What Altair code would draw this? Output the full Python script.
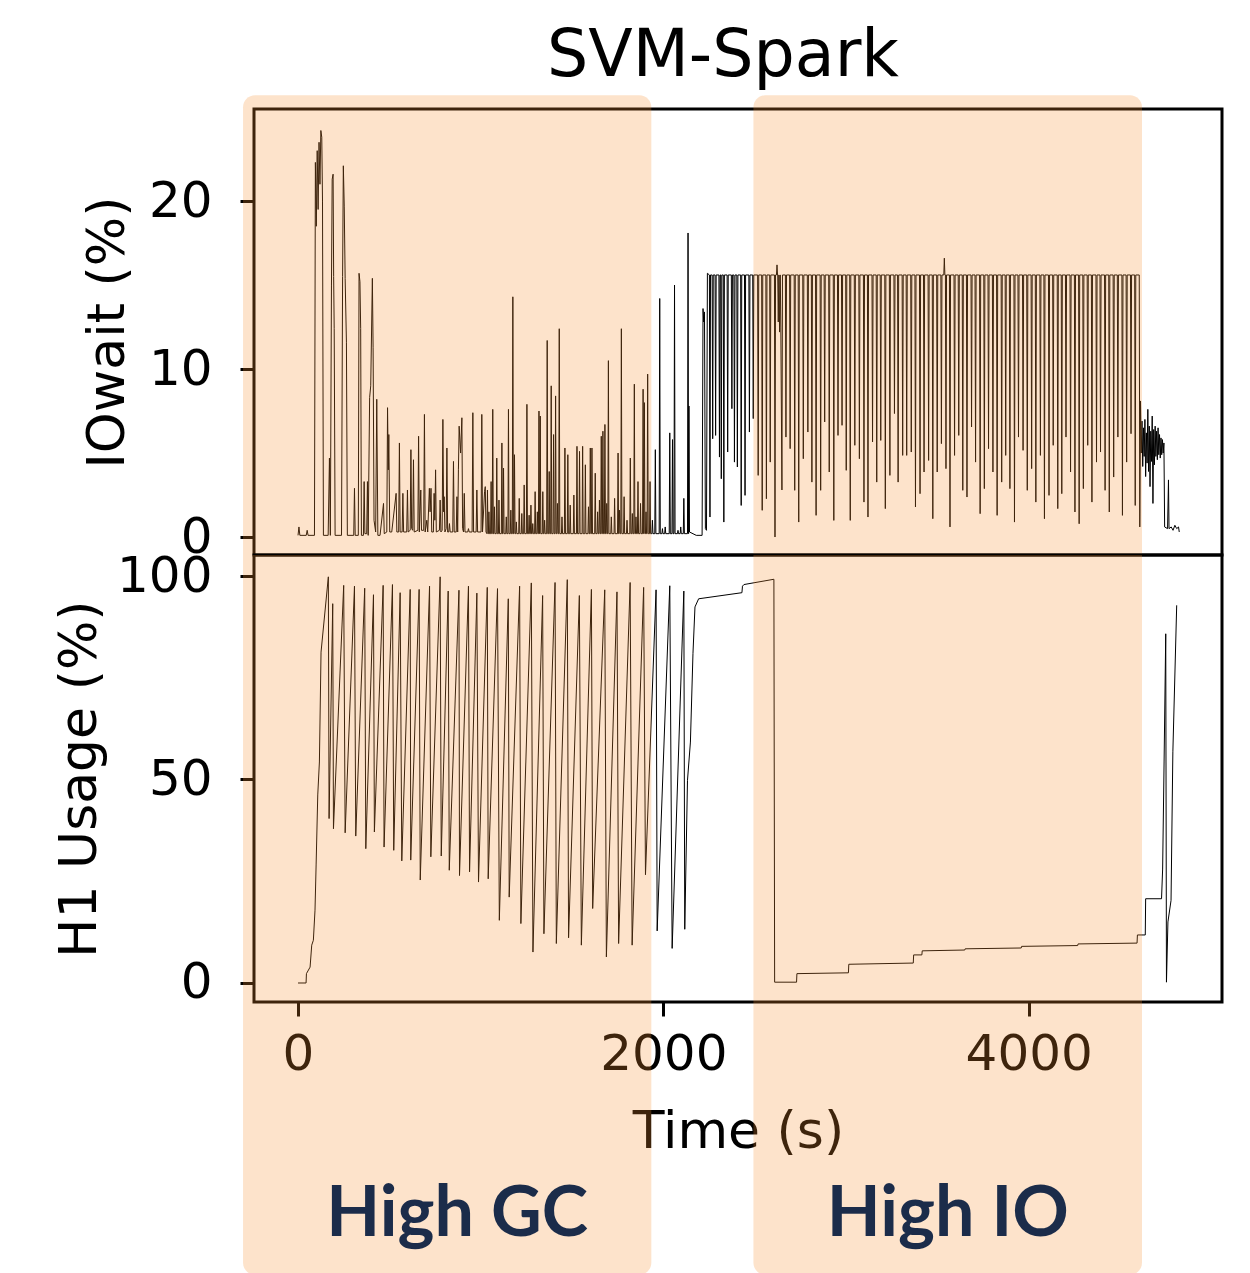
import altair as alt
import pandas as pd

# ---------------- IOwait (%) : top panel ----------------
IOW_EARLY_T = [0, 5, 10, 45, 50, 55, 90, 95, 100, 105, 110, 115, 120, 125, 130, 134, 139,
               165, 172, 177, 183, 187, 192, 195, 198, 203, 238, 244, 248, 253, 258, 265, 270,
               305, 309, 313, 330, 334, 339, 343, 347, 358, 362, 366, 376, 380, 384,
               392, 398, 407, 411, 416, 425, 431, 437, 449, 468, 472, 486, 490, 494, 497, 502,
               513, 537, 541, 551, 555, 559, 570, 574, 578, 595, 599, 603, 614, 618, 622, 628, 632, 636,
               656, 660, 664, 672, 676, 688, 692, 696, 705, 710, 719, 723, 728, 732, 741, 745, 749, 753, 757,
               774, 778, 782, 789, 793, 797, 800, 804, 811, 815, 819, 825, 829, 833, 847, 851, 855, 866, 870, 874,
               878, 882, 890, 897, 901, 906, 910, 914, 929, 933, 937, 953, 957, 961, 975, 979, 983,
               1002, 1006, 1010, 1021, 1025, 1029]
IOW_EARLY_V = [0.1, 0.6, 0.1, 0.1, 0.4, 0.1, 0.1, 22.3, 18.5, 23.0, 19.5, 23.5, 21.0, 24.2, 23.8, 20.0, 0.1,
               0.1, 4.7, 0.1, 15.0, 21.3, 21.6, 15.5, 12.4, 0.1, 0.1, 15.5, 22.1, 19.7, 15.4, 11.6, 0.1,
               0.1, 2.9, 0.1, 0.1, 15.7, 15.2, 12.4, 0.1, 0.1, 3.3, 0.2, 0.2, 3.3, 0.1,
               8.3, 9.0, 15.4, 11.3, 1.0, 0.3, 8.2, 0.1, 0.1, 2.0, 0.2, 0.3, 7.7, 4.0, 6.1, 0.3,
               0.3, 2.6, 0.3, 0.3, 5.6, 0.3, 0.3, 2.6, 0.3, 0.3, 2.8, 0.3, 0.4, 5.2, 0.5, 0.4, 4.6, 0.3,
               0.4, 6.0, 0.3, 2.8, 0.4, 0.4, 7.3, 0.3, 1.0, 0.3, 2.9, 1.5, 2.9, 0.3, 0.3, 2.6, 1.0, 4.0, 0.3,
               0.4, 2.2, 0.3, 0.4, 7.0, 1.5, 2.4, 0.3, 0.5, 5.3, 0.3, 0.3, 0.8, 0.3, 0.3, 4.5, 0.3, 0.3, 2.4, 0.3,
               4.0, 6.6, 5.0, 7.1, 0.5, 0.3, 2.6, 0.3, 0.3, 0.5, 0.3, 0.3, 7.4, 0.3, 0.3, 2.8, 0.3,
               0.3, 7.3, 0.3, 2.7, 3.0, 0.3]

IOW_SPIKE_T = [1037, 1045, 1057, 1066, 1075, 1088, 1100, 1116, 1125, 1140,
               1152, 1165, 1176, 1185, 1195, 1211, 1225, 1238, 1253, 1265,
               1275, 1285, 1298, 1310, 1319, 1326, 1340, 1350, 1364, 1375,
               1386, 1399, 1410, 1420, 1430, 1445, 1461, 1477, 1490, 1510,
               1527, 1541, 1558, 1573, 1590, 1600, 1609, 1627, 1640, 1650,
               1660, 1669, 1680, 1690, 1699, 1715, 1733, 1752, 1760, 1770,
               1785, 1801, 1819, 1830, 1841, 1850, 1861, 1875, 1889, 1896,
               1905, 1914, 1927, 1940, 1956, 1980, 1995, 2010, 2035, 2050,
               2061, 2080, 2095, 2112, 2135]
IOW_SPIKE_V = [2.8, 1.5, 3.3, 7.6, 1.8, 4.7, 2.2, 5.6, 4.1, 1.2,
               7.6, 1.6, 14.3, 4.9, 0.9, 2.3, 1.4, 3.1, 7.9, 1.3,
               1.9, 0.8, 2.7, 1.5, 7.5, 7.2, 2.7, 1.0, 11.7, 3.9,
               9.0, 6.1, 8.4, 2.0, 12.4, 1.2, 5.3, 4.9, 1.9, 2.5,
               5.4, 5.1, 5.4, 4.3, 1.8, 5.3, 5.3, 3.8, 1.5, 2.2,
               6.0, 6.3, 6.7, 2.0, 10.5, 1.2, 2.3, 5.0, 1.6, 12.4,
               2.4, 1.0, 4.7, 1.4, 9.1, 1.2, 3.3, 2.0, 8.8, 8.0,
               1.5, 9.7, 3.3, 1.0, 5.2, 14.2, 0.5, 0.6, 6.2, 5.8,
               15.0, 0.4, 0.6, 2.3, 18.1]
IOW_BASE = 0.2

IOW_MID_T = [2140, 2143, 2180, 2212, 2217, 2221, 2225, 2230, 2236, 2241]
IOW_MID_V = [7.8, 0.3, 0.1, 0.1, 13.6, 12.8, 13.4, 0.5, 0.4, 15.7]

IOW_PLATEAU = 15.6
IOW_DIP_T = [2255, 2270, 2286, 2307, 2317, 2331, 2352, 2375, 2389, 2405,
             2426, 2447, 2471, 2492, 2519, 2541, 2564, 2585, 2611, 2622,
             2629, 2636, 2643, 2649, 2671, 2694, 2719, 2741, 2766, 2791,
             2813, 2836, 2861, 2883, 2908, 2933, 2956, 2978, 3001, 3023,
             3048, 3073, 3098, 3120, 3145, 3168, 3190, 3215, 3240, 3265,
             3285, 3310, 3332, 3357, 3380, 3405, 3427, 3452, 3475, 3499,
             3522, 3538, 3547, 3569, 3594, 3617, 3639, 3662, 3687, 3709,
             3734, 3757, 3780, 3804, 3827, 3852, 3874, 3897, 3922, 3944,
             3969, 3992, 4016, 4039, 4064, 4086, 4111, 4134, 4159, 4181,
             4204, 4229, 4253, 4276, 4299, 4323, 4346, 4371, 4393, 4418,
             4441, 4465, 4488, 4513, 4536, 4560, 4583, 4608]
IOW_DIP_V = [1.19, 5.85, 6.05, 4.76, 3.47, 0.89, 5.06, 7.64, 4.46, 4.17,
             1.88, 2.48, 6.25, 7.05, 3.67, 1.59, 2.28, 4.46, 0.0, 16.2,
             12.8, 12.2, 12.5, 2.8, 5.95, 5.26, 2.78, 0.89, 4.66, 6.25,
             3.27, 1.29, 2.78, 6.85, 3.87, 0.99, 6.05, 6.65, 3.97, 0.99,
             5.46, 4.66, 2.08, 1.19, 5.66, 3.27, 5.75, 1.69, 3.67, 7.35,
             3.27, 4.86, 4.86, 5.06, 1.79, 2.58, 3.87, 4.56, 1.09, 3.87,
             5.56, 16.6, 4.07, 0.6, 4.86, 6.05, 2.78, 2.38, 6.55, 4.46,
             1.39, 2.88, 5.26, 3.87, 1.29, 3.27, 4.86, 2.88, 0.89, 5.95,
             5.16, 2.78, 4.07, 2.08, 4.86, 1.09, 2.48, 5.46, 1.69, 2.58,
             5.95, 3.87, 1.49, 0.79, 2.88, 5.46, 2.08, 4.46, 5.06, 2.78,
             1.49, 3.57, 5.95, 1.29, 4.46, 6.15, 1.88, 0.6]

IOW_TAIL_T = [4612, 4616, 4620, 4624, 4628, 4632, 4636, 4640, 4644, 4648,
              4652, 4656, 4660, 4664, 4668, 4672, 4676, 4680, 4684, 4688,
              4692, 4696, 4700, 4704, 4708, 4712, 4716, 4720, 4724, 4728,
              4732, 4736, 4740, 4744, 4760, 4765, 4768, 4780, 4790, 4800,
              4810, 4820, 4824]
IOW_TAIL_V = [8.1, 5.0, 6.9, 4.2, 6.5, 4.8, 7.0, 3.6, 6.2, 4.4,
              7.6, 3.9, 6.6, 3.0, 6.3, 4.5, 7.2, 2.0, 6.4, 4.3,
              6.6, 4.8, 6.3, 4.6, 6.5, 4.9, 6.1, 4.7, 5.9, 4.9,
              5.8, 5.0, 5.6, 0.6, 0.5, 3.4, 0.5, 0.6, 0.4, 0.7,
              0.5, 0.6, 0.3]

# ---------------- H1 Usage (%) : bottom panel ----------------
H1_RAMP_T = [0, 44, 46, 66, 75, 84, 93, 99, 108, 117, 126]
H1_RAMP_V = [0, 0, 2.3, 3.9, 9.3, 10.5, 17.9, 29.0, 46.2, 54.3, 81.3]
H1_PEAK_T = [166, 190, 250, 309, 365, 413, 466, 517, 559, 614, 663, 720, 778, 822, 881, 933, 979,
             1036, 1092, 1151, 1213, 1277, 1339, 1407, 1474, 1540, 1606, 1679, 1746, 1818, 1892,
             1960, 2035, 2112]
H1_PEAK_V = [99.8, 93.2, 97.7, 97.5, 97.0, 95.4, 97.7, 97.9, 95.9, 96.7, 96.7, 97.5, 99.8, 96.3,
             96.5, 97.5, 95.8, 97.2, 96.9, 94.4, 97.5, 98.3, 95.2, 98.4, 99.1, 95.2, 96.7, 96.6,
             96.1, 98.4, 97.2, 96.6, 97.6, 96.3]
H1_TROUGH_T = [170, 194, 258, 316, 371, 418, 471, 524, 568, 617, 669, 727, 784, 828, 884, 939, 988,
               1041, 1102, 1156, 1220, 1286, 1346, 1414, 1481, 1551, 1613, 1688, 1755, 1829, 1902,
               1966, 2048, 2117]
H1_TROUGH_V = [40.4, 37.9, 36.9, 36.1, 33.0, 37.1, 33.4, 32.6, 30.0, 30.2, 25.3, 31.0, 31.2, 27.7,
               26.4, 27.3, 24.8, 25.6, 15.4, 21.1, 14.6, 7.6, 12.1, 9.7, 11.1, 9.3, 18.3, 6.4,
               9.7, 9.3, 26.6, 12.8, 8.5, 13.2]
H1_LATE_T = [2132, 2148, 2162, 2173, 2193, 2430, 2433, 2441, 2605, 2609, 2729, 2731, 3013, 3015,
             3368, 3370, 3415, 3417, 3650, 3652, 3959, 3961, 4268, 4270, 4593, 4595, 4638, 4640,
             4727, 4733, 4741, 4750, 4754, 4762, 4779, 4789, 4810]
H1_LATE_V = [49.8, 59.2, 81.0, 92.4, 94.4, 95.9, 97.5, 97.9, 99.2, 0.2, 0.2, 2.3, 2.5, 4.6,
             4.9, 6.9, 6.9, 7.9, 8.1, 8.4, 8.6, 9.0, 9.2, 9.6, 9.8, 11.8, 11.8, 20.7,
             20.7, 28.0, 54.3, 85.8, 0.2, 15.0, 20.3, 56.8, 92.8]

# ---------------- highlighted phases ----------------
PHASE_LABELS = ["High GC", "High IO"]
PHASE_START = [-301, 2493]
PHASE_END = [1934, 4620]
PHASE_LABEL_T = [871, 3557]
PHASE_TOP_IOW = 26.3     # top of shaded band (IOwait units)
PHASE_BOTTOM_H1 = -71.7  # bottom of shaded band (H1 units)
PHASE_LABEL_H1 = -57.0   # label position (H1 units)

X_DOMAIN = [-241, 5058]
IOW_DOMAIN = [-1.07, 25.48]
H1_DOMAIN = [-4.67, 105.16]

# ---------------- build tables ----------------
iow_pts = list(zip(IOW_EARLY_T, IOW_EARLY_V))
for t, v in zip(IOW_SPIKE_T, IOW_SPIKE_V):
    iow_pts += [(t - 3, IOW_BASE), (t, v), (t + 3, IOW_BASE)]
iow_pts += list(zip(IOW_MID_T, IOW_MID_V))
n = len(IOW_DIP_T)
for i, (t, v) in enumerate(zip(IOW_DIP_T, IOW_DIP_V)):
    prev_t = IOW_DIP_T[i - 1] if i > 0 else -1e9
    next_t = IOW_DIP_T[i + 1] if i < n - 1 else None
    if t - prev_t > 6:
        iow_pts.append((t - 3, IOW_PLATEAU))
    iow_pts.append((t, v))
    if next_t is not None and next_t - t > 6:
        iow_pts.append((t + 3, IOW_PLATEAU))
iow_pts += list(zip(IOW_TAIL_T, IOW_TAIL_V))
iow_df = pd.DataFrame(iow_pts, columns=["t", "v"])

h1_pts = list(zip(H1_RAMP_T, H1_RAMP_V))
for a, b, c, d in zip(H1_PEAK_T, H1_PEAK_V, H1_TROUGH_T, H1_TROUGH_V):
    h1_pts += [(a, b), (c, d)]
h1_pts += list(zip(H1_LATE_T, H1_LATE_V))
h1_df = pd.DataFrame(h1_pts, columns=["t", "v"])

phase_top_df = pd.DataFrame({"start": PHASE_START, "end": PHASE_END,
                             "y1": [PHASE_TOP_IOW] * 2, "y2": [IOW_DOMAIN[0]] * 2})
phase_bot_df = pd.DataFrame({"start": PHASE_START, "end": PHASE_END,
                             "y1": [H1_DOMAIN[1]] * 2, "y2": [PHASE_BOTTOM_H1] * 2})
label_df = pd.DataFrame({"t": PHASE_LABEL_T, "y": [PHASE_LABEL_H1] * 2, "label": PHASE_LABELS})

# ---------------- chart ----------------
W = 968
SHADE = "#f8902f"
SHADE_OP = 0.25

xs = alt.Scale(domain=X_DOMAIN, nice=False, zero=False)
ys_top = alt.Scale(domain=IOW_DOMAIN, nice=False, zero=False)
ys_bot = alt.Scale(domain=H1_DOMAIN, nice=False, zero=False)
ax_top = alt.Axis(values=[0, 10, 20], title="IOwait (%)")
ax_bot = alt.Axis(values=[0, 50, 100], title="H1 Usage (%)", titlePadding=10)
ax_x = alt.Axis(values=[0, 2000, 4000], format="d", title="Time (s)")

top_line = alt.Chart(iow_df).mark_line(color="black", strokeWidth=1.0).encode(
    x=alt.X("t:Q", scale=xs, axis=None),
    y=alt.Y("v:Q", scale=ys_top, axis=ax_top),
)
top_shade = alt.Chart(phase_top_df).mark_rect(
    color=SHADE, opacity=SHADE_OP, clip=False,
    cornerRadiusTopLeft=12, cornerRadiusTopRight=12,
).encode(
    x=alt.X("start:Q", scale=xs, axis=None), x2="end:Q",
    y=alt.Y("y1:Q", scale=ys_top, axis=ax_top), y2="y2:Q",
)
top = alt.layer(top_line, top_shade).properties(
    width=W, height=446,
    title=alt.TitleParams("SVM-Spark", font="DejaVu Sans", fontSize=65, fontWeight="normal",
                          color="black", anchor="middle", frame="group", offset=5, dx=-15),
)

bot_line = alt.Chart(h1_df).mark_line(color="black", strokeWidth=1.0).encode(
    x=alt.X("t:Q", scale=xs, axis=ax_x),
    y=alt.Y("v:Q", scale=ys_bot, axis=ax_bot),
)
bot_shade = alt.Chart(phase_bot_df).mark_rect(
    color=SHADE, opacity=SHADE_OP, clip=False,
    cornerRadiusBottomLeft=12, cornerRadiusBottomRight=12,
).encode(
    x=alt.X("start:Q", scale=xs, axis=ax_x), x2="end:Q",
    y=alt.Y("y1:Q", scale=ys_bot, axis=ax_bot), y2="y2:Q",
)
bot_text = alt.Chart(label_df).mark_text(
    font="Lato", fontWeight="bold", fontSize=70, color="#1b2c4a",
    baseline="middle", align="center", clip=False,
).encode(
    x=alt.X("t:Q", scale=xs, axis=ax_x),
    y=alt.Y("y:Q", scale=ys_bot, axis=ax_bot),
    text="label:N",
)
bot = alt.layer(bot_line, bot_shade, bot_text).properties(width=W, height=447)

chart = alt.vconcat(top, bot, spacing=0, bounds="flush").properties(
    padding={"left": 44, "top": 14, "right": 10, "bottom": 5},
    background="white",
).configure_view(
    stroke="black", strokeWidth=3,
).configure_axis(
    domain=False, grid=False,
    labelFont="DejaVu Sans", labelFontSize=50, labelColor="black",
    titleFont="DejaVu Sans", titleFontSize=52, titleFontWeight="normal", titleColor="black",
    tickColor="black", tickWidth=3, tickSize=14,
).configure_axisY(
    labelPadding=28, titlePadding=14,
).configure_axisX(
    labelPadding=13, titlePadding=27,
)

chart.save("out.html", embed_options={"renderer": "svg", "actions": False})
